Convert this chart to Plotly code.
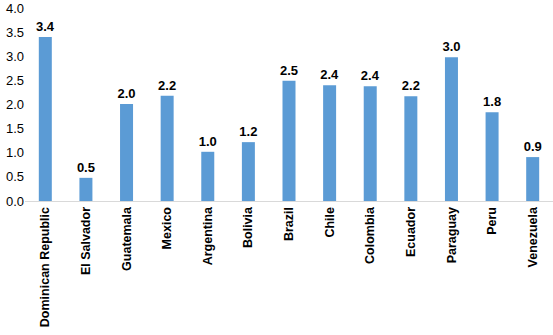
import plotly.graph_objects as go

countries = ["Dominican Republic", "El Salvador", "Guatemala", "Mexico", "Argentina",
             "Bolivia", "Brazil", "Chile", "Colombia", "Ecuador", "Paraguay", "Peru", "Venezuela"]
values = [3.40, 0.48, 2.01, 2.18, 1.02, 1.22, 2.49, 2.40, 2.38, 2.17, 2.98, 1.84, 0.91]
y_ticks = [0.0, 0.5, 1.0, 1.5, 2.0, 2.5, 3.0, 3.5, 4.0]

FONT = "Liberation Sans, Arial"

fig = go.Figure(go.Bar(
    x=countries, y=values,
    marker=dict(color="#5B9BD5", line=dict(width=0)),
    texttemplate="%{y:.1f}", textposition="outside",
    constraintext="none",
    textfont=dict(family=FONT, size=13, color="#000000", weight="bold"),
    cliponaxis=False,
))
fig.update_layout(
    width=553, height=335,
    margin=dict(l=25, r=0, t=8, b=134),
    paper_bgcolor="white", plot_bgcolor="white",
    bargap=0.68, showlegend=False,
    font=dict(family=FONT, color="#000000"),
)
fig.update_yaxes(range=[0, 4.0], tickvals=y_ticks, ticktext=[f"{v:.1f}" for v in y_ticks],
                 showgrid=False, showline=False, zeroline=False, automargin=False,
                 tickfont=dict(size=13, color="#000000"), ticks="", ticklen=0)
fig.update_xaxes(showline=True, linecolor="#D9D9D9", linewidth=1, tickangle=-90,
                 automargin=False,
                 tickfont=dict(size=12.5, color="#000000", weight="bold"), ticks="")
fig.write_html("out.html", config={"displayModeBar": False},
               post_script="document.body.style.margin='0';")
